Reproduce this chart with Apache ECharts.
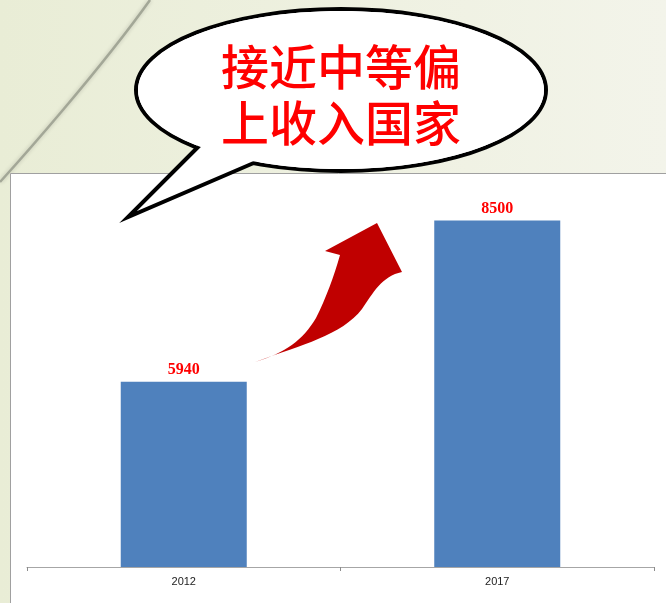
<!DOCTYPE html>
<html><head><meta charset="utf-8">
<script src="https://cdn.jsdelivr.net/npm/echarts@6/dist/echarts.min.js"></script>
<style>html,body{margin:0;padding:0;}#c{width:666px;height:603px;}</style>
</head><body><div id="c"></div>
<script>
const categories = ['2012', '2017'];
const values = [5940, 8500];
const bubbleLines = ['接近中等偏', '上收入国家'];

const ArrowShape = echarts.graphic.extendPath(
  'M255,362 C280,353 302,346 318,339 C337,331 352,322 362,309 C373,293 382,276 402,272 L377,223 L325,251 L340,255 C334,276 326,298 316,318 C303,340 285,353 255,362 Z', {});
echarts.graphic.registerShape('redArrow', ArrowShape);

const chart = echarts.init(document.getElementById('c'));
chart.setOption({
  backgroundColor: {
    type: 'linear', x: 0, y: 0, x2: 1, y2: 0,
    colorStops: [{offset: 0, color: '#e9edd6'}, {offset: 1, color: '#f3f4ea'}]
  },
  animation: false,
  grid: {left: 27, right: 12, top: 189, bottom: 36},
  xAxis: {
    type: 'category', data: categories,
    axisLine: {lineStyle: {color: '#a6a6a6', width: 1}},
    axisTick: {show: true, length: 4, lineStyle: {color: '#8c8c8c'}},
    axisLabel: {color: '#222', fontSize: 11, fontFamily: 'Liberation Sans Narrow, Liberation Sans, sans-serif', margin: 9}
  },
  yAxis: {type: 'value', min: 3000, max: 9000, show: false, splitLine: {show: false}},
  series: [{
    type: 'bar', data: values, barWidth: 126, z: 3,
    itemStyle: {color: '#4f81bd'},
    label: {show: true, position: 'top', distance: 4, color: '#ff0000', fontSize: 16, fontWeight: 'bold',
            fontFamily: 'Liberation Serif, serif'}
  }],
  graphic: [
    {type: 'bezierCurve', z: -10, silent: true,
     shape: {x1: 0, y1: 182, cpx1: 20, cpy1: 160, cpx2: 100, cpy2: 70, x2: 150, y2: 0},
     style: {stroke: '#a3a797', lineWidth: 2.5, fill: null, shadowBlur: 4, shadowColor: 'rgba(0,0,0,0.2)'}},
    {type: 'rect', z: -9, silent: true,
     shape: {x: 10.5, y: 173.5, width: 670, height: 440},
     style: {fill: '#ffffff', stroke: '#a0a0a0', lineWidth: 1}},
    {type: 'ellipse', z: 100, silent: true,
     shape: {cx: 341, cy: 90, rx: 205, ry: 81},
     style: {fill: '#ffffff', stroke: '#000000', lineWidth: 4}},
    {type: 'polygon', z: 101, silent: true,
     shape: {points: [[207, 138], [128, 217], [270, 156]]},
     style: {fill: '#ffffff', stroke: '#000000', lineWidth: 4, lineJoin: 'miter'}},
    {type: 'ellipse', z: 102, silent: true,
     shape: {cx: 341, cy: 90, rx: 203, ry: 79},
     style: {fill: '#ffffff'}},
    {type: 'text', z: 103, silent: true,
     style: {x: 341, y: 67, text: bubbleLines[0], fill: '#ff0000', fontSize: 48, fontWeight: 500,
             fontFamily: 'Noto Sans CJK SC', align: 'center', verticalAlign: 'middle'}},
    {type: 'text', z: 103, silent: true,
     style: {x: 341, y: 123, text: bubbleLines[1], fill: '#ff0000', fontSize: 48, fontWeight: 500,
             fontFamily: 'Noto Sans CJK SC', align: 'center', verticalAlign: 'middle'}},
    {type: 'redArrow', z: 50, silent: true,
     style: {fill: '#c00000'}}
  ]
});
</script></body></html>
